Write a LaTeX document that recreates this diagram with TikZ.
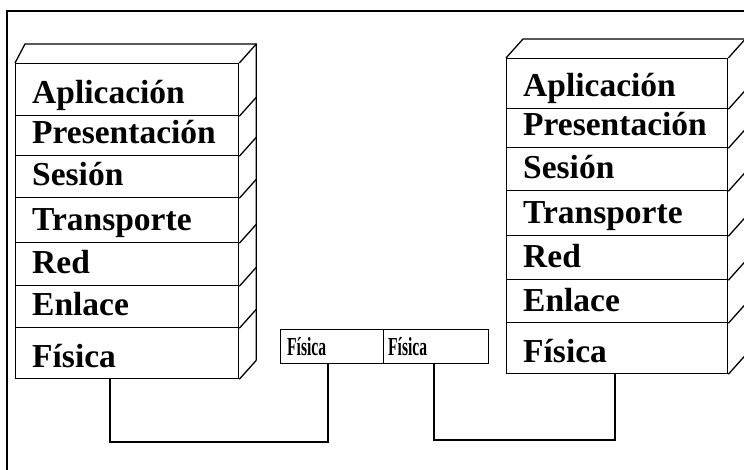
\documentclass[tikz,border=0pt]{standalone}
\usepackage{fontspec}
\setmainfont{Liberation Serif}
\usetikzlibrary{calc}
\begin{document}
\begin{tikzpicture}[x=1pt,y=-1pt,
  ln/.style={line width=1.3pt, line join=miter},
  rowbox/.style={draw, line width=1.3pt, inner sep=0pt, anchor=north west},
  lbl/.style={anchor=base west, inner sep=0pt, font=\fontsize{33.5}{36}\selectfont\bfseries},
  small/.style={anchor=base west, inner sep=0pt, font=\fontsize{26}{26}\selectfont\bfseries},
  wire/.style={line width=1.1pt}]
\useasboundingbox (0,0) rectangle (744,470);
% outer frame (cut at right and bottom)
\draw[line width=1.2pt] (7,470) -- (7,11) -- (744,11);

% ---------- left stack ----------
\foreach \t/\b/\n/\i in {63/115/Aplicación/1,115/155/Presentación/2,155/197/Sesión/3,197/242/Transporte/4,242/285/Red/5,285/327/Enlace/6,327/378/Física/7}{
  \pgfmathsetmacro\hh{\b-\t}
  \node[rowbox, minimum width=223pt, minimum height=\hh pt] (L\i) at (15,\t) {};
  \node[lbl] (Lt\i) at (32,\b-11) {\n};
  \draw[ln] (L\i.south east) -- ++(17,-19);
}
\draw[ln] (L1.north west) -- ++(10,-19) -- ($(L1.north east)+(17,-19)$) coordinate (LB) -- ($(L7.south east)+(17,-19)$);
\draw[ln] (L1.north east) -- (LB);

% ---------- right stack ----------
\foreach \t/\b/\n/\i in {58/108/Aplicación/1,108/147/Presentación/2,147/190/Sesión/3,190/235/Transporte/4,235/279/Red/5,279/322/Enlace/6,322/373/Física/7}{
  \pgfmathsetmacro\hh{\b-\t}
  \node[rowbox, minimum width=221pt, minimum height=\hh pt] (R\i) at (506,\t) {};
  \node[lbl] (Rt\i) at (523,\b-11) {\n};
  \draw[ln] (R\i.south east) -- ++(17,-19);
}
\draw[ln] (R1.north west) -- ++(17,-19) -- ($(R1.north east)+(17,-19)$) coordinate (RB) -- ($(R7.south east)+(17,-19)$);
\draw[ln] (R1.north east) -- (RB);

% ---------- physical medium boxes ----------
\node[rowbox, line width=1pt, minimum width=103pt, minimum height=34pt] (P1) at (280,329) {};
\node[rowbox, line width=1pt, minimum width=105pt, minimum height=34pt] (P2) at (383,329) {};
\node[small] (Pt1) at (287,355) {\scalebox{0.6}[1]{Física}};
\node[small] (Pt2) at (388,355) {\scalebox{0.6}[1]{Física}};

% ---------- connectors ----------
\coordinate (c1) at (110,442);
\coordinate (c2) at (328,442);
\coordinate (d1) at (434,440);
\coordinate (d2) at (615,440);
\draw[wire] (c1 |- L7.south) -- (c1) -- (c2) -- (c2 |- P1.south);
\draw[wire] (d1 |- P2.south) -- (d1) -- (d2) -- (d2 |- R7.south);
\end{tikzpicture}
\end{document}
